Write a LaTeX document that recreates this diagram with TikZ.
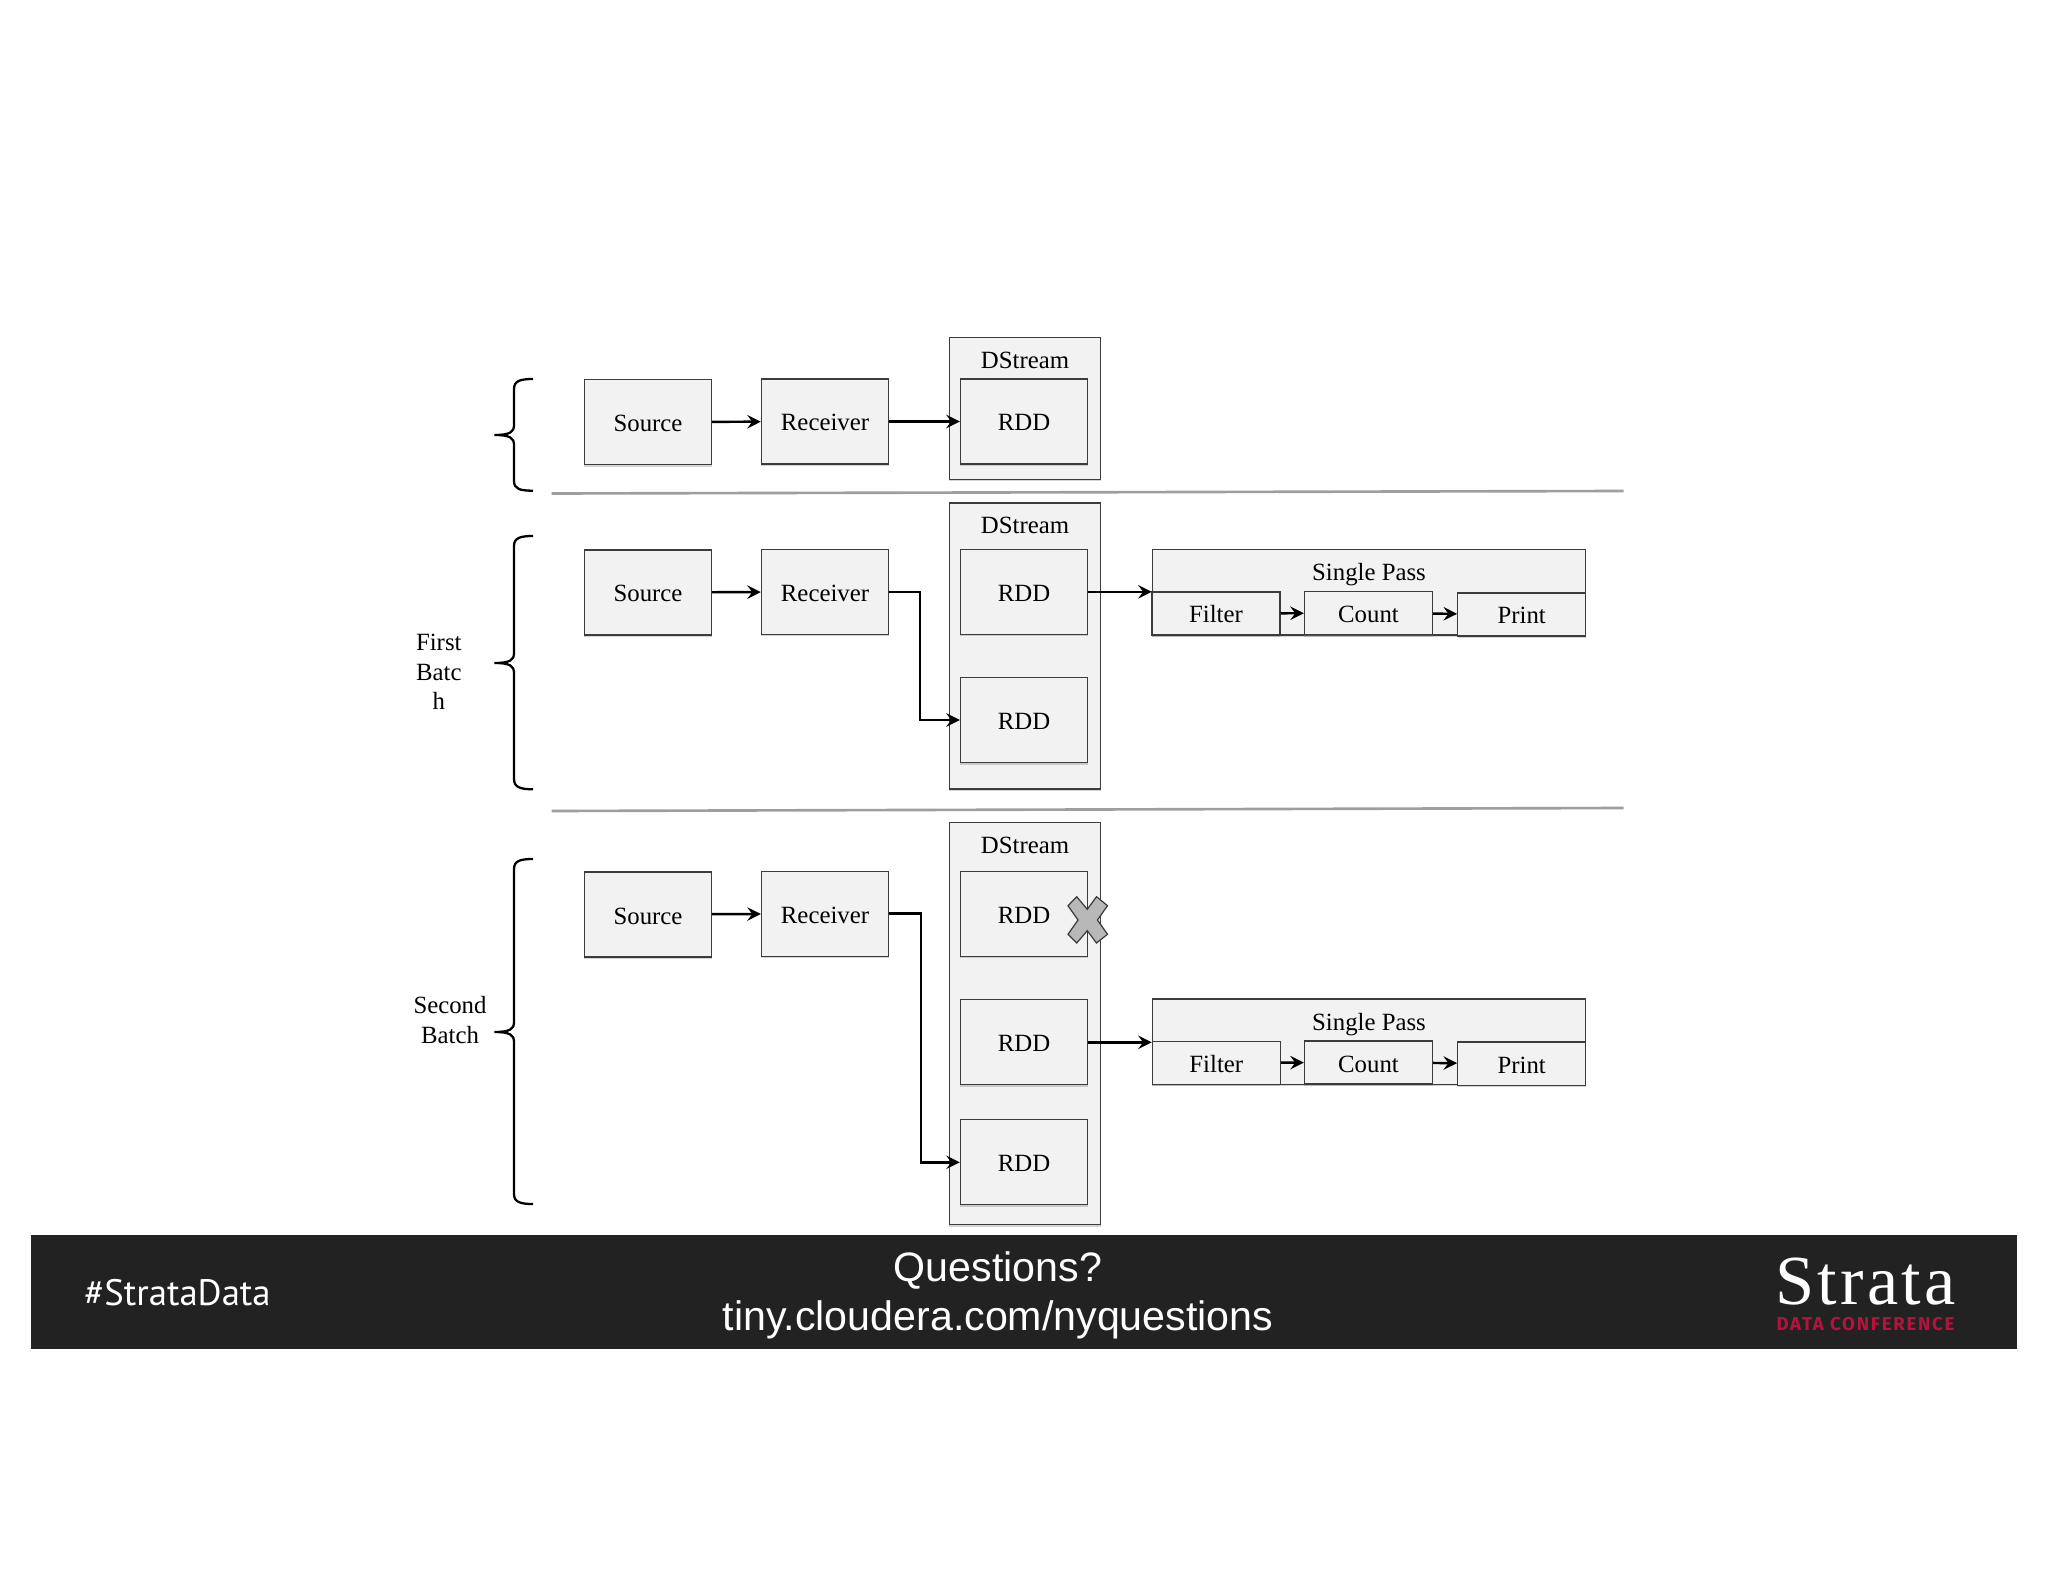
\documentclass[tikz,border=0pt]{standalone}
\usepackage{fontspec}
\setmainfont{Liberation Serif}
\newfontfamily\qfont{Liberation Sans}
\newfontfamily\tagfont{PT Sans}
\newfontfamily\confont[LetterSpace=9.4]{Fira Sans}
\newfontfamily\logofont[LetterSpace=4.5]{Liberation Serif}
\usetikzlibrary{shadows}
\definecolor{boxfill}{HTML}{F2F2F2}
\definecolor{boxline}{HTML}{3C3C3C}
\definecolor{barfill}{HTML}{222222}
\definecolor{confred}{HTML}{B5123E}

\begin{document}
\begin{tikzpicture}[x=0.01cm, y=-0.01cm,
    box/.style={draw=boxline, fill=boxfill, line width=0.35pt, inner sep=0pt, text height=5.4pt, text depth=0pt,
      font=\fontsize{7.05}{8.4}\selectfont,
      drop shadow={shadow xshift=0pt, shadow yshift=-0.6pt, opacity=0.35}},
    unit/.style={box, minimum width=1.27cm, minimum height=0.85cm},
    stage/.style={box, minimum width=1.28cm, minimum height=0.43cm},
    holder/.style={box, minimum width=1.51cm},
    pass/.style={box, minimum width=4.33cm, minimum height=0.85cm},
    txt/.style={inner sep=0pt, align=center, font=\fontsize{7.05}{8.4}\selectfont},
    conn/.style={->, >=stealth, line width=0.7pt},
    brc/.style={line width=0.65pt},
    sep/.style={draw=black!38, line width=0.75pt}]
    \useasboundingbox (0, 0) rectangle (2048, 1582);

    % top row
    \node[unit] (S1) at (648, 422) {Source};
    \node[unit] (R1) at (825, 421.5) {Receiver};
    \node[holder, minimum height=1.416cm] (D1) at (1025, 408.5) {};
    \node[txt] (D1t) at (1025, 360.5) {DStream};
    \node[unit] (D1a) at (1024, 421.5) {RDD};

    \draw[conn] (S1) -- (R1);
    \draw[conn] (R1) -- (D1a);

    % first batch
    \node[unit] (S2) at (648, 592.5) {Source};
    \node[unit] (R2) at (825, 591.8) {Receiver};
    \node[holder, minimum height=2.86cm] (D2) at (1025, 646) {};
    \node[txt] (D2t) at (1025, 525.5) {DStream};
    \node[unit] (D2a) at (1024, 591.8) {RDD};
    \node[unit] (D2b) at (1024, 720) {RDD};

    \node[pass] (P2) at (1369, 592.4) {};
    \node[txt] (P2t) at (1369, 574.5) {Single Pass};
    \node[stage] (F2) at (1216, 613.5) {Filter};
    \node[stage] (C2) at (1368.5, 613) {Count};
    \node[stage] (O2) at (1521.7, 614.5) {Print};

    \draw[conn] (S2) -- (R2);
    \draw[conn] (R2.east) -- ++(31, 0) |- (D2b.west);
    \draw[conn] (D2a.east) -- (D2a.east -| P2.west);
    \draw[conn] (F2) -- (C2);
    \draw[conn] (C2) -- (O2);

    % second batch
    \node[unit] (S3) at (648, 914.5) {Source};
    \node[unit] (R3) at (825, 913.7) {Receiver};
    \node[holder, minimum height=4.02cm] (D3) at (1025, 1023.3) {};
    \node[txt] (D3t) at (1025, 845) {DStream};
    \node[unit] (D3a) at (1024, 913.8) {RDD};
    \node[unit] (D3b) at (1024, 1042.3) {RDD};
    \node[unit] (D3c) at (1024, 1162.3) {RDD};

    \node[pass] (P3) at (1369, 1041.6) {};
    \node[txt] (P3t) at (1369, 1024.5) {Single Pass};
    \node[stage] (F3) at (1216.3, 1062.8) {Filter};
    \node[stage] (C3) at (1368.5, 1062.5) {Count};
    \node[stage] (O3) at (1521.7, 1063.6) {Print};

    \draw[conn] (S3) -- (R3);
    \draw[conn] (R3.east) -- ++(32, 0) |- (D3c.west);
    \draw[conn] (D3b.east) -- (D3b.east -| P3.west);
    \draw[conn] (F3) -- (C3);
    \draw[conn] (C3) -- (O3);

    % lost RDD
    \draw[draw=boxline, fill=black!28, line width=0.35pt]
      (1068, 905.7) -- (1076.7, 896.7) -- (1087.3, 909.3) -- (1096.5, 896.7) -- (1107.5, 905.7) -- (1097.4, 920)
      -- (1107.5, 934.3) -- (1096.5, 943) -- (1087.3, 930.7) -- (1076.7, 943) -- (1068, 934.3) -- (1078, 920) -- cycle;

    % braces
    \coordinate (B1t) at (533, 379);
    \coordinate (B1b) at (533, 490.7);
    \coordinate (B2t) at (533, 536);
    \coordinate (B2b) at (533, 789.3);
    \coordinate (B3t) at (533, 859);
    \coordinate (B3b) at (533, 1204);
    \draw[brc] (B1t) .. controls (520, 379) and (514, 381) .. (514, 389) -- (514, 425)
      .. controls (514, 432) and (510, 435) .. (494.5, 435) .. controls (510, 435) and (514, 438) .. (514, 445)
      -- (514, 481) .. controls (514, 489) and (520, 490.7) .. (B1b);
    \draw[brc] (B2t) .. controls (520, 536) and (514, 538) .. (514, 546) -- (514, 653)
      .. controls (514, 660) and (510, 663) .. (494.5, 663) .. controls (510, 663) and (514, 666) .. (514, 673)
      -- (514, 779) .. controls (514, 787) and (520, 789.3) .. (B2b);
    \draw[brc] (B3t) .. controls (520, 859) and (514, 861) .. (514, 869) -- (514, 1022)
      .. controls (514, 1029) and (510, 1032) .. (494.5, 1032) .. controls (510, 1032) and (514, 1035) .. (514, 1042)
      -- (514, 1194) .. controls (514, 1202) and (520, 1204) .. (B3b);

    \node[txt] (L2) at (438.8, 672) {First\\Batc\\h};
    \node[txt] (L3) at (450, 1020) {Second\\Batch};

    % separators
    \coordinate (A1) at (551.7, 493.5);
    \coordinate (A2) at (1623.6, 491);
    \coordinate (A3) at (551.7, 811);
    \coordinate (A4) at (1623.6, 808);
    \draw[sep] (A1) -- (A2);
    \draw[sep] (A3) -- (A4);

    % footer
    \node[fill=barfill, minimum width=19.85cm, minimum height=1.145cm, inner sep=0pt] (bar) at (1024.2, 1291.8) {};
    \node[inner sep=0pt, text=white, font=\tagfont\fontsize{10.45}{12}\selectfont] (tag) at (177.5, 1293) {\#StrataData};
    \node[inner sep=0pt, text=white, align=center, font=\qfont\fontsize{11.7}{14}\selectfont] (qs) at (998, 1295.5) {Questions?\\tiny.cloudera.com/nyquestions};
    \node[inner sep=0pt, text=white, font=\logofont\fontsize{20}{22}\selectfont] (logo) at (1865.5, 1282) {Strata};
    \node[inner sep=0pt, text=confred, font=\confont\bfseries\fontsize{5.3}{6}\selectfont] (conf) at (1865.5, 1324) {DATA CONFERENCE};
\end{tikzpicture}
\end{document}
